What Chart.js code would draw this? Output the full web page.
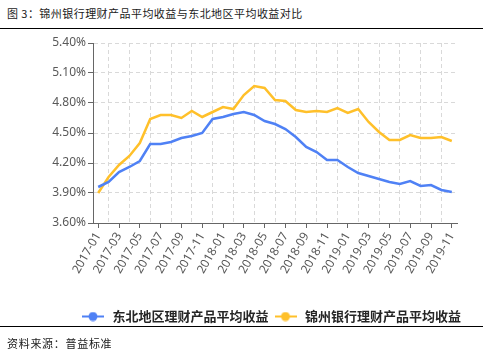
<!DOCTYPE html>
<html><head><meta charset="utf-8">
<script src="https://cdn.jsdelivr.net/npm/chart.js@4/dist/chart.umd.min.js"></script>
<style>
html,body{margin:0;padding:0;background:#fff;}
body{width:483px;height:355px;position:relative;overflow:hidden;font-family:"Noto Sans CJK SC",sans-serif;}
#title{position:absolute;left:7px;top:5px;font-size:11px;letter-spacing:0.45px;color:#1a1a1a;white-space:nowrap;line-height:16px;}
#topline{position:absolute;left:0;top:28px;width:483px;height:0;border-top:1.5px solid #000;}
#botline{position:absolute;left:0;top:326px;width:483px;height:0;border-top:1.5px solid #000;}
#source{position:absolute;left:7px;top:335px;font-size:11px;letter-spacing:0.7px;color:#1a1a1a;white-space:nowrap;line-height:16px;}
#wrap{position:absolute;left:0;top:30px;width:483px;height:303px;}
</style></head>
<body>
<div id="title">图 3：锦州银行理财产品平均收益与东北地区平均收益对比</div>
<div id="topline"></div>
<div id="wrap"><canvas id="c"></canvas></div>
<div id="botline"></div>
<div id="source">资料来源：普益标准</div>
<script>
const months = ["2017-01","2017-02","2017-03","2017-04","2017-05","2017-06","2017-07","2017-08","2017-09","2017-10","2017-11","2017-12",
"2018-01","2018-02","2018-03","2018-04","2018-05","2018-06","2018-07","2018-08","2018-09","2018-10","2018-11","2018-12",
"2019-01","2019-02","2019-03","2019-04","2019-05","2019-06","2019-07","2019-08","2019-09","2019-10","2019-11"];
const northeastYield = [3.96,4.01,4.11,4.16,4.22,4.39,4.39,4.41,4.45,4.47,4.50,4.64,4.66,4.69,4.71,4.68,4.62,4.59,4.54,4.46,4.36,4.31,4.23,4.23,4.16,4.10,4.07,4.04,4.01,3.99,4.02,3.97,3.98,3.93,3.91];
const jinzhouYield = [3.90,4.06,4.18,4.27,4.40,4.64,4.68,4.68,4.65,4.72,4.66,4.71,4.76,4.74,4.88,4.97,4.95,4.83,4.82,4.73,4.71,4.72,4.71,4.75,4.70,4.74,4.61,4.51,4.43,4.43,4.48,4.45,4.45,4.46,4.42];
const seriesNames = ["东北地区理财产品平均收益","锦州银行理财产品平均收益"];
const seriesColors = ["#4f81f5","#ffc02a"];
const yMin = 3.6, yMax = 5.4, yStep = 0.3;

function makeMarker(color){
  const c = document.createElement('canvas');
  c.width = 22; c.height = 10;
  const x = c.getContext('2d');
  x.strokeStyle = color; x.lineWidth = 2;
  x.beginPath(); x.moveTo(0,5); x.lineTo(22,5); x.stroke();
  x.fillStyle = color;
  x.beginPath(); x.arc(11,5,4.5,0,Math.PI*2); x.fill();
  return c;
}
const markers = seriesColors.map(makeMarker);

const shiftLegend = {
  id:'shiftLegend',
  afterLayout(chart){
    const lg = chart.legend;
    if(lg){ lg.left += 42; lg.right += 42; }
  }
};

new Chart(document.getElementById('c'), {
  type:'line',
  data:{
    labels: months,
    datasets:[
      {label:seriesNames[0], data:northeastYield, borderColor:seriesColors[0], backgroundColor:seriesColors[0], borderWidth:2.5, pointRadius:0, tension:0},
      {label:seriesNames[1], data:jinzhouYield, borderColor:seriesColors[1], backgroundColor:seriesColors[1], borderWidth:2.5, pointRadius:0, tension:0}
    ]
  },
  plugins:[shiftLegend],
  options:{
    responsive:true, maintainAspectRatio:false, animation:false,
    layout:{padding:{left:0,right:26,top:13,bottom:0}},
    plugins:{
      tooltip:{enabled:false},
      legend:{
        position:'bottom',
        labels:{
          usePointStyle:true, pointStyleWidth:26, padding:4,
          color:'#262626',
          font:{family:'"Noto Sans CJK SC"', size:13, weight:'bold'},
          generateLabels:(chart)=>Chart.defaults.plugins.legend.labels.generateLabels(chart).map((l,i)=>Object.assign(l,{pointStyle:markers[i]}))
        }
      }
    },
    scales:{
      x:{
        offset:true,
        grid:{offset:false, color:(ctx)=>ctx.index%2===1?'#d9d9d9':'rgba(0,0,0,0)', tickColor:(ctx)=>ctx.index%2===0?'#666':'rgba(0,0,0,0)', tickLength:5, lineWidth:1},
        border:{color:'#666', width:1, dash:[4,3]},
        ticks:{autoSkip:false, minRotation:60, maxRotation:60, padding:2, color:'#595959', font:{family:'"Noto Sans"', size:12},
          callback:function(v,i){ return i%2===0 ? months[i] : ''; }},
        afterFit:(s)=>{ s.height = 83; }
      },
      y:{
        min:yMin, max:yMax,
        grid:{color:'#d9d9d9', tickColor:'#666', tickLength:5, lineWidth:1},
        border:{color:'#666', width:1, dash:[4,3]},
        ticks:{stepSize:yStep, padding:2, color:'#595959', font:{family:'"Noto Sans"', size:12},
          callback:(v)=>v.toFixed(2)+'%'},
        afterFit:(s)=>{ s.width = 93; }
      }
    }
  }
});
</script>
</body></html>
